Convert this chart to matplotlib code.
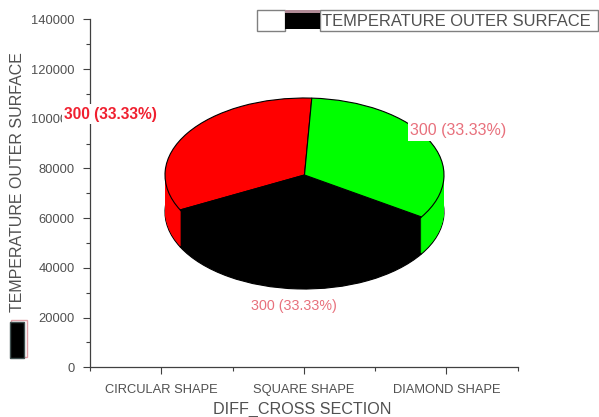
import matplotlib
matplotlib.use('Agg')
import matplotlib.pyplot as plt
from matplotlib.patches import Rectangle

plt.rcParams['font.family'] = ['Liberation Sans', 'DejaVu Sans']

categories = ['CIRCULAR SHAPE', 'SQUARE SHAPE', 'DIAMOND SHAPE']
values = [300, 300, 300]
pie_colors = ['#ff0000', '#000000', '#00ff00']
pie_labels = ['300 (33.33%)', '300 (33.33%)', '300 (33.33%)']
yticks = [0, 20000, 40000, 60000, 80000, 100000, 120000, 140000]
yminor = [10000, 30000, 50000, 70000, 90000, 110000, 130000]
series_name = 'TEMPERATURE OUTER SURFACE'

W, H = 599, 417
gray = '#505050'

def fx(x): return x / W
def fy(y): return 1 - y / H

fig = plt.figure(figsize=(W / 100, H / 100), dpi=100)

# main axes
ax = fig.add_axes([fx(90), fy(367.3), (517.5 - 90) / W, (367.3 - 19.3) / H])
ax.set_xlim(0.5, 3.5)
ax.set_ylim(0, 140000)
for s in ['top', 'right']:
    ax.spines[s].set_visible(False)
for s in ['left', 'bottom']:
    ax.spines[s].set_color('#404040')
    ax.spines[s].set_linewidth(0.9)
ax.set_xticks([1, 2, 3])
ax.set_xticklabels(categories, fontsize=9.3, color=gray)
ax.set_xticks([0.5, 1.5, 2.5, 3.5], minor=True)
ax.set_yticks(yticks)
ax.set_yticklabels([str(v) for v in yticks], fontsize=9.3, color=gray)
ax.set_yticks(yminor, minor=True)
ax.tick_params(which='major', length=5, width=0.8, color='#404040', pad=6)
ax.tick_params(which='minor', length=3, width=0.8, color='#404040')
ax.tick_params(axis='x', which='major', pad=7)
fig.text(fx(302.5), fy(409), 'DIFF_CROSS SECTION', fontsize=11.6, color=gray, ha='center', va='center')
fig.text(fx(18), fy(182), series_name, fontsize=11.5, color=gray, rotation=90, ha='center', va='center')

# pie: top surface is an ellipse, the side is stacked copies pushed down
rx, ry, depth = 139.5, 77, 37
px_top, px_bot = 175 - ry, 175 + ry + depth
pa = fig.add_axes([fx(304.5 - rx), fy(px_bot), 2 * rx / W, (px_bot - px_top) / H])
order_start = 87
for d in range(depth, 0, -1):
    pa.pie(values, colors=pie_colors, startangle=order_start, center=(0, -d / ry), radius=1,
           wedgeprops={'linewidth': 0.8 if d == depth else 0, 'edgecolor': '#000000'})
pa.pie(values, colors=pie_colors, startangle=order_start, center=(0, 0), radius=1,
       wedgeprops={'linewidth': 0.8, 'edgecolor': '#000000'})
pa.set_aspect('auto')
pa.set_xlim(-1, 1)
pa.set_ylim(-1 - depth / ry, 1)
pa.set_axis_off()

# value labels, with white boxes like the original
white = dict(facecolor='white', edgecolor='none', pad=1.5)
fig.text(fx(110.5), fy(114), pie_labels[0], fontsize=11.2, color='#f02030', fontweight='bold',
         ha='center', va='center', bbox=white, zorder=10)
fig.text(fx(458.5), fy(131), pie_labels[2], fontsize=11.5, color='#e8707c', ha='center', va='center',
         bbox=white, zorder=10)
fig.text(fx(293.5), fy(306), pie_labels[1], fontsize=10.3, color='#e8707c', ha='center', va='center',
         bbox=white, zorder=10)

# legend box and swatches
def rect(x0, y0, x1, y1, **kw):
    fig.add_artist(Rectangle((fx(x0), fy(y1)), (x1 - x0) / W, (y1 - y0) / H,
                             transform=fig.transFigure, **kw))

rect(320, 10, 598, 31, facecolor='white', edgecolor='#808080', linewidth=1)
rect(257, 10, 285, 31, facecolor='white', edgecolor='#808080', linewidth=1)
rect(285, 10, 320, 29, facecolor='#000000', edgecolor='none')
rect(285, 10, 320, 13, facecolor='#b08a96', edgecolor='none')
fig.text(fx(322.5), fy(21), series_name, fontsize=11.9, color=gray, ha='left', va='center')

# small swatch under the y label
rect(11, 320, 27, 357, facecolor='white', edgecolor='#e0a0a8', linewidth=1)
rect(10, 322, 24, 358, facecolor='#000000', edgecolor='#405050', linewidth=1)

fig.savefig('out.png', dpi=100)
